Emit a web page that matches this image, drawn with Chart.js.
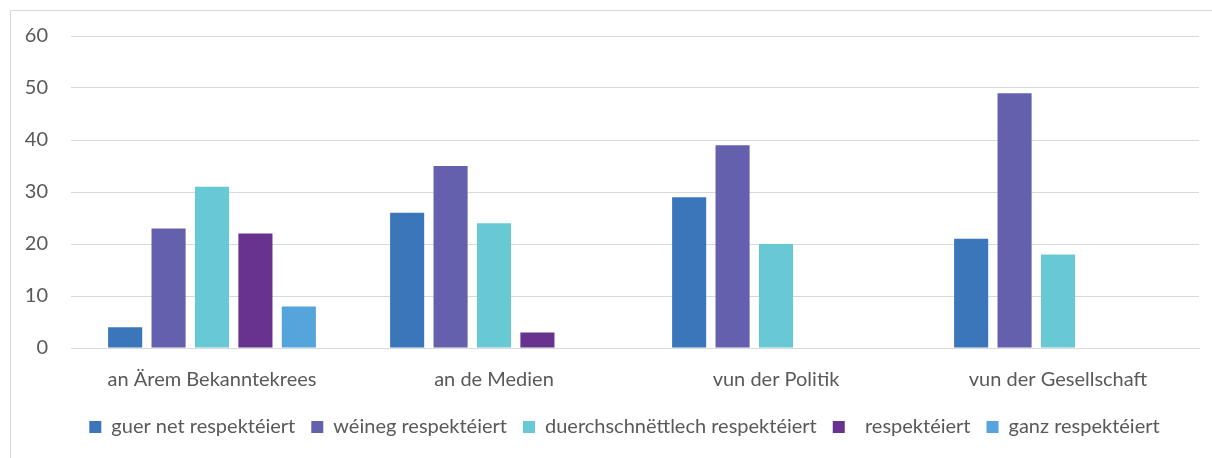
<!DOCTYPE html>
<html>
<head>
<meta charset="utf-8">
<script src="https://cdn.jsdelivr.net/npm/chart.js@4"></script>
<style>
    html, body { margin: 0; padding: 0; background: #fff; overflow: hidden; }
    #frame {
        position: absolute; left: 10px; top: 10px; width: 1300px; height: 500px;
        border-top: 1px solid #d9d9d9; border-left: 1px solid #d9d9d9;
    }
    #wrap { position: absolute; left: 0; top: 0; width: 1212px; height: 458px; }
</style>
</head>
<body>
<div id="frame"></div>
<div id="wrap"><canvas id="chart"></canvas></div>
<script>
// categories and series
const categories = ['an Ärem Bekanntekrees', 'an de Medien', 'vun der Politik', 'vun der Gesellschaft'];
const seriesNames = ['guer net respektéiert', 'wéineg respektéiert', 'duerchschnëttlech respektéiert', '  respektéiert', 'ganz respektéiert'];
const guerNet = [4, 26, 29, 21];
const weineg = [23, 35, 39, 49];
const duerchschnett = [31, 24, 20, 18];
const respekteiert = [22, 3, 0, 0];
const ganz = [8, 0, 0, 0];
const yTicks = [0, 10, 20, 30, 40, 50, 60];

const colors = ['#3b76bb', '#6460ad', '#66c9d4', '#67338f', '#55a4db'];
const values = [guerNet, weineg, duerchschnett, respekteiert, ganz];

const textColor = '#595959';
const gridColor = '#d9d9d9';
const fontFamily = 'Lato, "Open Sans", sans-serif';

// the original legend sits a bit right of the canvas centre
const legendShift = {
    id: 'legendShift',
    afterLayout(chart) {
        chart.legend.left += 25;
        chart.legend.right += 25;
    }
};

const ctx = document.getElementById('chart').getContext('2d');

new Chart(ctx, {
    type: 'bar',
    data: {
        labels: categories,
        datasets: seriesNames.map((name, i) => ({
            label: name,
            data: values[i],
            backgroundColor: colors[i],
            borderWidth: 0,
            categoryPercentage: 0.77,
            barPercentage: 0.785
        }))
    },
    options: {
        responsive: true,
        maintainAspectRatio: false,
        animation: false,
        layout: {
            padding: { left: 0, right: 13, top: 36, bottom: 11 }
        },
        plugins: {
            tooltip: { enabled: false },
            legend: {
                position: 'bottom',
                labels: {
                    color: textColor,
                    font: { family: fontFamily, size: 20 },
                    boxWidth: 12,
                    boxHeight: 12,
                    padding: 16
                }
            }
        },
        scales: {
            x: {
                grid: { display: false },
                border: { display: true, color: gridColor, width: 1 },
                ticks: {
                    color: textColor,
                    font: { family: fontFamily, size: 20 },
                    padding: 12
                },
                afterFit: axis => { axis.height = 53; }
            },
            y: {
                min: 0,
                max: 60,
                afterBuildTicks: axis => {
                    axis.ticks = yTicks.map(v => ({ value: v }));
                },
                grid: { color: gridColor, drawTicks: false },
                border: { display: false },
                ticks: {
                    color: textColor,
                    font: { family: fontFamily, size: 20 },
                    padding: 23
                },
                afterFit: axis => { axis.width = 71; }
            }
        }
    },
    plugins: [legendShift]
});
</script>
</body>
</html>
